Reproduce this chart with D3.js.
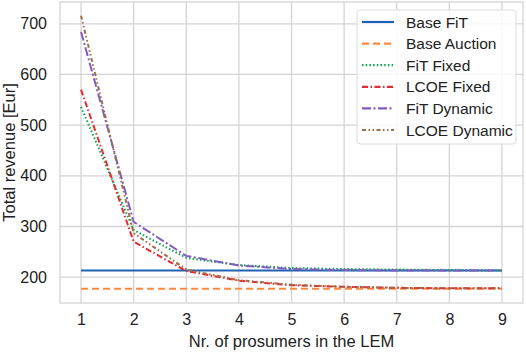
<!DOCTYPE html>
<html>
  <head>
    <meta charset="utf-8">
    <script src="https://d3js.org/d3.v7.min.js"></script>
    <style>
      body { margin: 0; background: #fff; }
      svg { font-family: "Liberation Sans", Arial, sans-serif; }
      .grid line { stroke: #d4d4d4; stroke-width: 1.3; }
      .tick text { font-size: 16px; fill: #222; }
    </style>
  </head>
  <body>
    <svg id="chart"></svg>
    <script>
      // Data
      const prosumers = [1, 2, 3, 4, 5, 6, 7, 8, 9];
      const baseFit = [213, 213, 213, 213, 213, 213, 213, 213, 213];
      const baseAuction = [177, 177, 177, 177, 177, 177, 177, 177, 177];
      const fitFixed = [536, 293, 238, 224, 218, 216, 215, 214, 213];
      const lcoeFixed = [570, 270, 212, 193, 184, 181, 179, 178, 178];
      const fitDynamic = [684, 309, 242, 223, 216, 214, 213, 213, 213];
      const lcoeDynamic = [716, 287, 215, 194, 185, 181, 179, 178, 178];
      const seriesNames = ["Base FiT", "Base Auction", "FiT Fixed", "LCOE Fixed", "FiT Dynamic", "LCOE Dynamic"];
      const yTicks = [200, 300, 400, 500, 600, 700];

      const series = [
        { name: seriesNames[0], values: baseFit, color: "#1f62b3", dash: null },
        { name: seriesNames[1], values: baseAuction, color: "#ff8a3d", dash: "7,4" },
        { name: seriesNames[2], values: fitFixed, color: "#0aa54e", dash: "1.5,2.2" },
        { name: seriesNames[3], values: lcoeFixed, color: "#e62a30", dash: "6,2.5,1.5,2.5" },
        { name: seriesNames[4], values: fitDynamic, color: "#805cc0", dash: "9,2.5,2,2.5" },
        { name: seriesNames[5], values: lcoeDynamic, color: "#9f6f4b", dash: "4,2.5,1.5,2.5,1.5,2.5" }
      ];

      const width = 526, height = 352;
      const margin = { top: 2, right: 3, bottom: 49, left: 60 };

      const svg = d3.select("#chart")
        .attr("width", width)
        .attr("height", height);

      const x = d3.scaleLinear()
        .domain([0.6, 9.4])
        .range([margin.left, width - margin.right]);

      const y = d3.scaleLinear()
        .domain([149, 743])
        .range([height - margin.bottom, margin.top]);

      // grid
      const grid = svg.append("g").attr("class", "grid");
      grid.selectAll(".gx")
        .data(prosumers)
        .enter().append("line")
        .attr("x1", d => x(d)).attr("x2", d => x(d))
        .attr("y1", margin.top).attr("y2", height - margin.bottom);
      grid.selectAll(".gy")
        .data(yTicks)
        .enter().append("line")
        .attr("x1", margin.left).attr("x2", width - margin.right)
        .attr("y1", d => y(d)).attr("y2", d => y(d));

      // frame
      svg.append("rect")
        .attr("x", margin.left).attr("y", margin.top)
        .attr("width", width - margin.right - margin.left)
        .attr("height", height - margin.bottom - margin.top)
        .attr("fill", "none")
        .attr("stroke", "#d4d4d4")
        .attr("stroke-width", 1.3);

      // axes (labels only)
      const xAxis = svg.append("g")
        .attr("transform", "translate(0," + (height - margin.bottom) + ")")
        .call(d3.axisBottom(x).tickValues(prosumers).tickSize(0).tickPadding(11).tickFormat(d3.format("d")));
      xAxis.select(".domain").remove();

      const yAxis = svg.append("g")
        .attr("transform", "translate(" + margin.left + ",0)")
        .call(d3.axisLeft(y).tickValues(yTicks).tickSize(0).tickPadding(13));
      yAxis.select(".domain").remove();
      svg.selectAll(".tick text").attr("font-family", null).attr("font-size", null);

      svg.append("text")
        .attr("x", (margin.left + width - margin.right) / 2)
        .attr("y", 347)
        .attr("text-anchor", "middle")
        .attr("font-size", "16.5px")
        .attr("fill", "#222")
        .text("Nr. of prosumers in the LEM");

      svg.append("text")
        .attr("transform", "translate(15," + ((margin.top + height - margin.bottom) / 2) + ") rotate(-90)")
        .attr("text-anchor", "middle")
        .attr("font-size", "16.5px")
        .attr("fill", "#222")
        .text("Total revenue [Eur]");

      // lines
      const line = d3.line()
        .x((d, i) => x(prosumers[i]))
        .y(d => y(d));

      svg.selectAll(".series")
        .data(series)
        .enter().append("path")
        .attr("fill", "none")
        .attr("stroke", d => d.color)
        .attr("stroke-width", 2)
        .attr("stroke-dasharray", d => d.dash)
        .attr("d", d => line(d.values));

      // legend
      const legend = svg.append("g").attr("transform", "translate(357,10)");
      legend.append("rect")
        .attr("width", 159).attr("height", 134)
        .attr("rx", 3)
        .attr("fill", "#fff").attr("fill-opacity", 0.85)
        .attr("stroke", "#dcdcdc");
      const item = legend.selectAll(".item")
        .data(series)
        .enter().append("g")
        .attr("transform", (d, i) => "translate(0," + (12 + i * 21.6) + ")");
      item.append("line")
        .attr("x1", 5).attr("x2", 37)
        .attr("stroke", d => d.color)
        .attr("stroke-width", 2.2)
        .attr("stroke-dasharray", d => d.dash);
      item.append("text")
        .attr("x", 49).attr("y", 5.5)
        .attr("font-size", "15.5px")
        .attr("fill", "#222")
        .text(d => d.name);
    </script>
  </body>
</html>
